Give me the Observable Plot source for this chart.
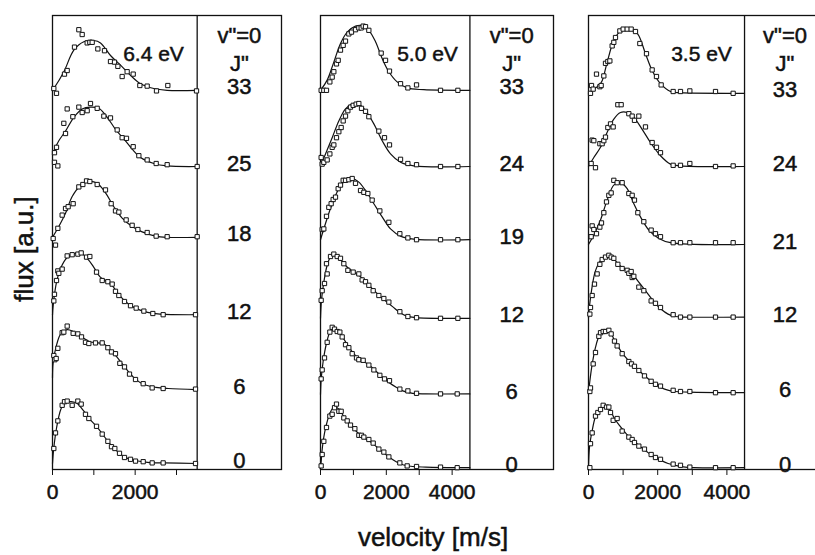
<!DOCTYPE html>
<html><head><meta charset="utf-8">
<script src="https://cdn.jsdelivr.net/npm/d3@7"></script>
<script src="https://cdn.jsdelivr.net/npm/@observablehq/plot@0.6"></script>
<style>
body{margin:0;background:#fff;overflow:hidden}
#wrap{position:relative;width:815px;height:555px;overflow:hidden;background:#fff;font-family:"Liberation Sans",Arial,sans-serif;color:#111}
#wrap svg{position:absolute;top:0}
#wrap svg text{stroke:#111;stroke-width:0.5px}
.ytitle{position:absolute;left:24px;top:249px;transform:translate(-50%,-50%) rotate(-90deg);font-size:26px;white-space:nowrap;-webkit-text-stroke:0.5px #111}
.xtitle{position:absolute;left:433px;top:537px;transform:translate(-50%,-50%);font-size:26px;white-space:nowrap;-webkit-text-stroke:0.5px #111}
</style></head>
<body><div id="wrap"><div class="ytitle">flux [a.u.]</div><div class="xtitle">velocity [m/s]</div></div>
<script>
// ---- data ----
const energies = ["6.4 eV", "5.0 eV", "3.5 eV"];
const jLevels = [[0, 6, 12, 18, 25, 33], [0, 6, 12, 19, 24, 33], [0, 6, 12, 21, 24, 33]];
const offsets = [[0.10, 1.33, 2.58, 3.87, 5.05, 6.32], [0.03, 1.25, 2.52, 3.83, 5.05, 6.32], [0.03, 1.28, 2.53, 3.75, 5.05, 6.27]];
const vMax = [3500, 4540, 4510];
const xTicks = [[0, 1000, 2000, 3000], [0, 1000, 2000, 3000, 4000], [0, 1000, 2000, 3000, 4000]];
const xTickLabels = [[0, 2000], [0, 2000, 4000], [0, 2000, 4000]];
const levelTitle = ['v"=0', 'J"'];

// 6.4 eV: measured points [velocity, flux] and fitted curves
const p64_0 = [[32,0.25],[73,0.51],[129,0.71],[234,0.97],[290,1.03],[355,1.04],[476,0.97],[613,1.04],[694,0.99],[798,0.82],[879,0.75],[1065,0.62],[1202,0.49],[1339,0.37],[1427,0.28],[1508,0.25],[1621,0.17],[1742,0.1],[1887,0.07],[2008,0.04],[2194,0.03],[2411,0.01],[2677,0.01],[3460,0]];
const f64_0 = [[0,0],[30,0.25],[100,0.6],[200,0.9],[300,1.02],[450,1.03],[600,1.0],[750,0.88],[900,0.74],[1050,0.63],[1200,0.5],[1350,0.36],[1500,0.25],[1650,0.15],[1800,0.09],[2000,0.05],[2300,0.02],[2700,0.01],[3500,0]];
const p64_6 = [[32,0.57],[56,0.5],[89,0.52],[129,0.69],[234,0.95],[274,0.96],[355,1.06],[500,0.94],[613,0.93],[702,0.88],[798,0.79],[879,0.77],[1040,0.78],[1202,0.78],[1339,0.7],[1427,0.63],[1524,0.6],[1629,0.44],[1742,0.38],[1863,0.26],[2008,0.17],[2194,0.1],[2411,0.03],[2677,0.02],[3460,0.01]];
const f64_6 = [[0,0.2],[16,0.45],[100,0.75],[200,0.93],[350,1.0],[500,0.97],[700,0.88],[900,0.8],[1100,0.78],[1250,0.76],[1400,0.66],[1550,0.55],[1700,0.42],[1850,0.29],[2000,0.18],[2200,0.09],[2500,0.04],[2800,0.02],[3500,0]];
const p64_12 = [[32,0.23],[48,0.34],[97,0.57],[129,0.73],[153,0.69],[234,0.76],[355,0.98],[476,1.0],[613,1.01],[694,1.03],[823,0.96],[903,0.97],[1065,0.71],[1202,0.57],[1339,0.55],[1444,0.51],[1524,0.39],[1605,0.32],[1742,0.22],[1887,0.15],[2024,0.11],[2210,0.06],[2427,0.02],[2677,0],[3460,0]];
const f64_12 = [[0,0],[16,0.15],[100,0.55],[200,0.78],[350,0.95],[550,1.02],[700,1.02],[850,0.93],[1000,0.79],[1150,0.63],[1300,0.56],[1450,0.48],[1600,0.34],[1800,0.2],[2000,0.11],[2300,0.04],[2600,0.01],[3500,0]];
const p64_18 = [[16,-0.02],[73,-0.13],[129,0.15],[234,0.37],[315,0.48],[379,0.51],[500,0.56],[637,0.84],[734,0.88],[823,0.94],[903,0.93],[1081,0.88],[1282,0.79],[1419,0.56],[1524,0.44],[1605,0.42],[1782,0.29],[1927,0.2],[2065,0.13],[2290,0.08],[2508,0.02],[2774,0.01],[3500,0.01]];
const f64_18 = [[0,0],[153,0.18],[315,0.4],[476,0.68],[677,0.86],[879,0.93],[1081,0.9],[1282,0.74],[1484,0.51],[1685,0.32],[1927,0.18],[2169,0.09],[2492,0.02],[2774,0],[3500,0]];
const p64_25 = [[48,0.07],[48,0.23],[129,0.01],[97,0.32],[274,0.72],[315,0.55],[355,0.96],[492,0.83],[637,0.99],[718,0.9],[839,0.93],[919,1.05],[1081,0.97],[1242,0.84],[1403,0.81],[1565,0.61],[1685,0.48],[1790,0.47],[1952,0.33],[2089,0.18],[2290,0.11],[2508,0.05],[2774,0.03],[3500,0]];
const f64_25 = [[0,0.2],[32,0.26],[153,0.43],[315,0.59],[516,0.82],[718,0.96],[919,0.99],[1121,0.97],[1323,0.82],[1524,0.62],[1726,0.46],[1927,0.29],[2129,0.15],[2452,0.05],[2774,0.01],[3500,0]];
const p64_33 = [[32,0.03],[97,-0.05],[290,0.27],[355,0.33],[532,0.72],[637,1.01],[718,0.93],[839,0.79],[903,0.8],[960,0.8],[1097,0.69],[1258,0.66],[1403,0.48],[1500,0.47],[1581,0.4],[1685,0.23],[1806,0.31],[1952,0.27],[2113,0.08],[2290,0.07],[2516,-0.01],[2790,0.08],[3484,-0.01]];
const f64_33 = [[0,0],[32,0.03],[275,0.31],[516,0.67],[758,0.81],[1000,0.83],[1161,0.79],[1403,0.58],[1645,0.42],[1887,0.25],[2129,0.11],[2452,0.03],[2774,0],[3500,0]];

// 5.0 eV
const p50_0 = [[20,0.03],[51,0.22],[101,0.44],[182,0.67],[284,0.86],[355,0.89],[426,1.0],[486,1.06],[557,0.94],[628,0.94],[709,0.83],[811,0.78],[912,0.71],[1044,0.65],[1165,0.54],[1246,0.54],[1317,0.51],[1469,0.47],[1601,0.41],[1773,0.31],[1925,0.26],[2077,0.18],[2411,0.08],[2634,0.03],[2918,0.02],[3647,0.01],[4154,0]];
const f50_0 = [[0,0],[20,0.1],[60,0.35],[150,0.65],[280,0.9],[420,1.02],[550,0.98],[700,0.86],[900,0.72],[1100,0.6],[1300,0.51],[1500,0.44],[1700,0.35],[1900,0.26],[2100,0.17],[2300,0.1],[2500,0.05],[2800,0.02],[3200,0.01],[4540,0]];
const p50_6 = [[20,0.26],[51,0.41],[122,0.61],[203,0.87],[284,1.04],[355,1.12],[426,1.09],[507,1.05],[588,1.04],[659,0.96],[760,0.83],[861,0.78],[963,0.68],[1094,0.61],[1165,0.58],[1297,0.57],[1469,0.49],[1621,0.41],[1803,0.32],[1945,0.26],[2097,0.23],[2411,0.09],[2655,0.06],[2918,0.02],[3647,0.01],[4154,0.01]];
const f50_6 = [[0,0],[20,0.25],[80,0.55],[180,0.85],[280,1.03],[400,1.1],[550,1.05],[700,0.93],[900,0.76],[1100,0.63],[1300,0.56],[1500,0.48],[1700,0.38],[1900,0.28],[2100,0.19],[2300,0.12],[2500,0.06],[2800,0.02],[3200,0.01],[4540,0.01]];
const p50_12 = [[20,0.3],[51,0.46],[122,0.58],[182,0.91],[203,0.74],[304,1.03],[405,1.07],[507,1.03],[608,1.0],[709,0.91],[831,0.8],[993,0.77],[1165,0.74],[1266,0.64],[1368,0.61],[1469,0.55],[1601,0.46],[1773,0.38],[1925,0.33],[2077,0.27],[2411,0.11],[2655,0.03],[2918,0.01],[3647,0],[4174,0]];
const f50_12 = [[0,0],[30,0.3],[100,0.6],[200,0.88],[300,1.02],[400,1.07],[500,1.04],[650,0.95],[800,0.86],[1000,0.77],[1200,0.7],[1400,0.6],[1600,0.48],[1800,0.37],[2000,0.28],[2200,0.19],[2400,0.1],[2600,0.04],[2900,0.01],[4540,0]];
const p50_19 = [[51,0.17],[101,0.18],[182,0.39],[253,0.54],[324,0.6],[385,0.67],[456,0.71],[537,0.85],[608,0.91],[689,0.99],[760,0.99],[861,1.0],[963,1.02],[1064,0.94],[1216,0.82],[1317,0.79],[1439,0.77],[1570,0.66],[1803,0.48],[2077,0.29],[2411,0.1],[2655,0.03],[2918,0],[3647,0],[4174,0]];
const f50_19 = [[0,0],[152,0.27],[355,0.6],[557,0.85],[760,0.99],[963,1.02],[1165,0.96],[1368,0.82],[1621,0.6],[1874,0.38],[2128,0.18],[2432,0.06],[2837,0.01],[4540,0]];
const p50_24 = [[20,0.15],[51,0.04],[101,0.07],[203,0.11],[284,0.21],[355,0.32],[405,0.36],[486,0.48],[557,0.58],[628,0.65],[689,0.76],[760,0.84],[831,0.93],[912,0.99],[993,1.02],[1084,1.04],[1165,1.05],[1246,0.97],[1368,0.92],[1469,0.83],[1773,0.59],[1945,0.48],[2097,0.36],[2432,0.12],[2655,0.05],[2918,0.03],[3647,0],[4174,0]];
const f50_24 = [[0,0],[152,0.21],[355,0.48],[557,0.76],[760,0.96],[963,1.04],[1165,1.04],[1368,0.93],[1621,0.71],[1874,0.43],[2128,0.21],[2432,0.07],[2837,0.01],[4540,0]];
const p50_33 = [[20,0],[101,0],[182,0],[284,0.14],[355,0.22],[405,0.31],[486,0.44],[537,0.5],[608,0.67],[689,0.75],[760,0.82],[861,0.94],[942,0.97],[1064,1.01],[1165,1.04],[1236,1.04],[1297,1.07],[1368,1.06],[1469,1.0],[1844,0.62],[1976,0.5],[2097,0.32],[2432,0.11],[2655,0.04],[2918,0.09],[3647,0],[4174,0]];
const f50_33 = [[0,0],[203,0.17],[405,0.47],[608,0.78],[811,0.97],[1064,1.07],[1266,1.08],[1469,1.0],[1672,0.81],[1874,0.53],[2077,0.31],[2330,0.14],[2634,0.04],[3141,0.01],[4540,0]];

// 3.5 eV
const p35_0 = [[39,0],[58,0.4],[106,0.58],[202,0.86],[270,0.92],[347,0.97],[424,1.04],[520,1.01],[588,1.01],[636,0.92],[713,0.79],[828,0.82],[973,0.61],[1166,0.51],[1262,0.47],[1329,0.42],[1455,0.36],[1618,0.31],[1811,0.22],[1936,0.17],[2081,0.14],[2447,0.06],[2659,0.04],[2929,0.01],[3671,0],[4181,0]];
const f35_0 = [[0,0],[30,0.35],[100,0.6],[200,0.85],[300,0.96],[450,1.02],[600,0.98],[750,0.82],[900,0.7],[1100,0.56],[1300,0.45],[1500,0.35],[1700,0.26],[1900,0.18],[2100,0.12],[2300,0.07],[2500,0.04],[2800,0.01],[4510,0]];
const p35_6 = [[39,0.02],[58,0.08],[135,0.48],[202,0.67],[299,0.94],[347,1.0],[424,1.02],[491,1.02],[588,1.04],[655,0.98],[751,0.86],[828,0.78],[973,0.65],[1166,0.52],[1243,0.48],[1329,0.44],[1455,0.37],[1618,0.28],[1811,0.19],[1936,0.14],[2081,0.11],[2447,0.04],[2659,0.02],[2929,0.02],[3671,0],[4181,0]];
const f35_6 = [[0,0],[30,0.15],[100,0.45],[200,0.75],[300,0.93],[450,1.02],[600,1.02],[750,0.88],[950,0.68],[1150,0.54],[1350,0.43],[1550,0.32],[1750,0.22],[1950,0.13],[2200,0.06],[2500,0.02],[2900,0.01],[4510,0]];
const p35_12 = [[39,0.06],[58,0.17],[106,0.37],[173,0.56],[250,0.73],[328,0.89],[395,0.97],[491,1.01],[588,1.04],[655,1.01],[732,0.99],[848,0.89],[973,0.82],[1118,0.79],[1166,0.74],[1233,0.77],[1262,0.67],[1310,0.69],[1455,0.51],[1599,0.45],[1811,0.28],[1936,0.24],[2081,0.17],[2447,0.05],[2659,0.01],[2929,0.01],[3671,0.01],[4181,0.01]];
const f35_12 = [[0,0],[30,0.2],[100,0.5],[200,0.78],[350,0.95],[550,1.03],[700,1.0],[900,0.87],[1100,0.79],[1300,0.7],[1500,0.56],[1700,0.41],[1900,0.26],[2100,0.14],[2300,0.06],[2500,0.02],[2800,0.01],[4510,0.01]];
const p35_21 = [[77,0.13],[106,0.31],[154,0.25],[231,0.18],[328,0.29],[376,0.36],[443,0.53],[520,0.71],[588,0.82],[655,0.86],[732,1.07],[828,1.03],[973,1.03],[1166,0.85],[1262,0.82],[1329,0.74],[1426,0.53],[1599,0.38],[1811,0.24],[1936,0.18],[2081,0.13],[2447,0.03],[2659,0.03],[2929,0.03],[3671,0.03],[4181,0.03]];
const f35_21 = [[0,0],[154,0.16],[347,0.41],[540,0.74],[732,0.99],[925,1.03],[1118,0.93],[1310,0.68],[1503,0.46],[1744,0.24],[2033,0.1],[2370,0.03],[4510,0]];
const p35_24 = [[77,0.05],[106,0.44],[154,0.43],[202,-0.02],[328,0.38],[395,0.38],[443,0.43],[491,0.49],[559,0.65],[636,0.71],[713,0.66],[848,1.03],[944,1.03],[1166,0.88],[1262,0.84],[1329,0.77],[1455,0.84],[1647,0.66],[1840,0.4],[1965,0.32],[2081,0.23],[2447,0.02],[2659,0.02],[2929,0.05],[3671,0],[4181,0.01]];
const f35_24 = [[0,0],[154,0.15],[347,0.32],[540,0.57],[732,0.79],[925,0.9],[1118,0.9],[1310,0.82],[1551,0.62],[1792,0.4],[2081,0.18],[2370,0.04],[2659,0.01],[4510,0]];
const p35_33 = [[58,0],[87,0.13],[135,0.07],[231,0.32],[328,0.11],[366,0.13],[443,0.29],[491,0.5],[559,0.53],[617,0.54],[684,0.79],[732,0.85],[780,0.93],[906,1.04],[1002,1.07],[1118,1.07],[1233,1.07],[1358,1.03],[1484,0.83],[1676,0.66],[1840,0.39],[1965,0.28],[2100,0.14],[2447,0.03],[2659,0.03],[2929,0.04],[3671,0.03],[4181,0]];
const f35_33 = [[0,0],[154,0.07],[299,0.13],[395,0.21],[540,0.52],[732,0.88],[925,1.04],[1118,1.07],[1310,1.06],[1455,0.96],[1647,0.66],[1840,0.38],[2081,0.16],[2370,0.03],[2659,0.01],[4510,0]];

const points = [[p64_0,p64_6,p64_12,p64_18,p64_25,p64_33],[p50_0,p50_6,p50_12,p50_19,p50_24,p50_33],[p35_0,p35_6,p35_12,p35_21,p35_24,p35_33]];
const fits = [[f64_0,f64_6,f64_12,f64_18,f64_25,f64_33],[f50_0,f50_6,f50_12,f50_19,f50_24,f50_33],[f35_0,f35_6,f35_12,f35_21,f35_24,f35_33]];

// ---- layout ----
const layout = [
  {left: 0,   ml: 52, fw: 229, mr: 4, xEnd: 5540, eDx: 101},
  {left: 290, ml: 30, fw: 233, mr: 4, xEnd: 7080, eDx: 107},
  {left: 560, ml: 28, fw: 237, mr: 0, xEnd: 6850, eDx: 113}
];
const ink = "#111";
const wrap = document.getElementById("wrap");

layout.forEach((L, i) => {
  const rows = jLevels[i].map((J, k) => ({J, off: offsets[i][k]}));
  const pts = [], fit = [];
  jLevels[i].forEach((J, k) => {
    points[i][k].forEach(([v, h]) => pts.push({J, v, y: h + offsets[i][k]}));
    fits[i][k].forEach(([v, h]) => fit.push({J, v, y: h + offsets[i][k]}));
  });
  const xMid = (vMax[i] + L.xEnd) / 2;
  const svg = Plot.plot({
    width: L.ml + L.fw + L.mr, height: 509,
    marginLeft: L.ml, marginRight: L.mr, marginTop: 15, marginBottom: 40,
    x: {domain: [0, L.xEnd]},
    y: {domain: [0, 7.567], axis: null},
    style: {fontFamily: '"Liberation Sans", Arial, sans-serif', fontSize: "20px", color: ink, background: "transparent", overflow: "visible"},
    marks: [
      Plot.frame({stroke: ink, strokeWidth: 1.3}),
      Plot.ruleX([vMax[i]], {stroke: ink, strokeWidth: 1.3}),
      Plot.line(fit, {x: "v", y: "y", z: "J", curve: "catmull-rom", stroke: ink, strokeWidth: 1.2}),
      Plot.dot(pts, {x: "v", y: "y", symbol: "square", r: 2.4, fill: "white", stroke: ink, strokeWidth: 1}),
      Plot.text(rows, {x: () => xMid, y: "off", text: d => String(d.J), fontSize: 22, lineAnchor: "middle", dy: -3, fill: ink}),
      Plot.text([levelTitle[0]], {x: () => xMid, frameAnchor: "top", lineAnchor: "middle", dy: 20, text: d => d, fontSize: 22, fill: ink}),
      Plot.text([levelTitle[1]], {x: () => xMid, frameAnchor: "top", lineAnchor: "middle", dy: 48, text: d => d, fontSize: 22, fill: ink}),
      Plot.text([energies[i]], {frameAnchor: "top-left", lineAnchor: "middle", dx: L.eDx, dy: 39, textAnchor: "middle", text: d => d, fontSize: 21, fill: ink}),
      Plot.axisX({ticks: xTicks[i], tickFormat: d => xTickLabels[i].includes(d) ? String(d) : "", tickSize: 6, tickPadding: 9, fontSize: 21, label: null, stroke: ink})
    ]
  });
  svg.style.left = L.left + "px";
  svg.style.maxWidth = "none";
  wrap.appendChild(svg);
});
</script>
</body></html>
